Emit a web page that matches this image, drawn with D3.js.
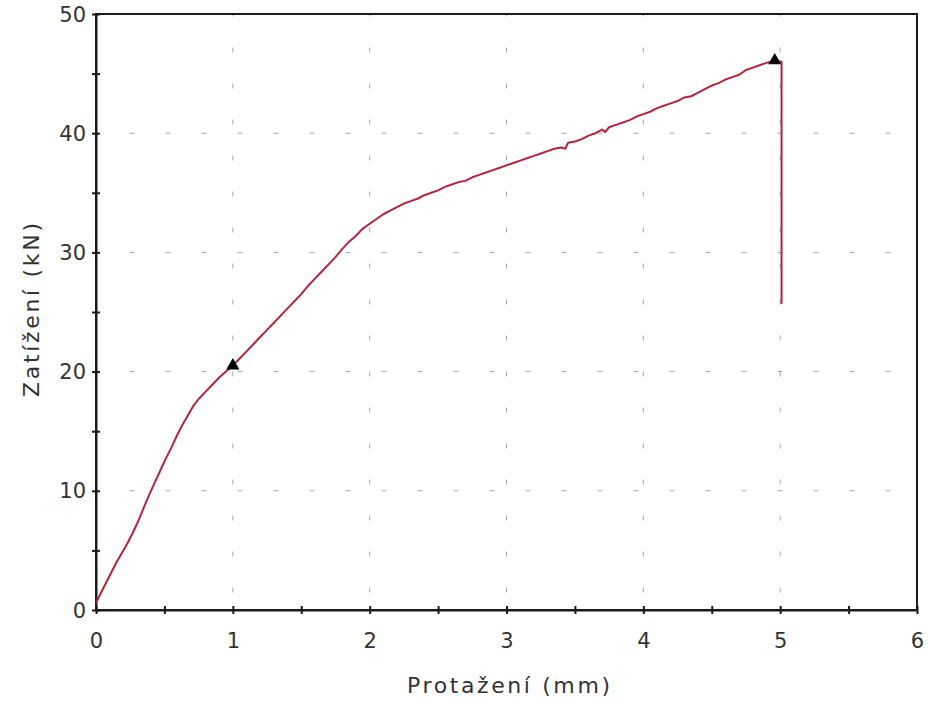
<!DOCTYPE html>
<meta charset="utf-8">
<style>
  body { margin: 0; background: #fff; }
  svg { display: block; font-family: "DejaVu Sans", Verdana, sans-serif; }
  .grid line { stroke: #a8a8a8; stroke-width: 1; stroke-dasharray: 5 31; }
  .axis path, .axis line { stroke: #1a1a1a; stroke-width: 2; }
  .axis text { fill: #333; font-size: 21px; font-family: "DejaVu Sans", Verdana, sans-serif; }
  .frame { fill: none; stroke: #1a1a1a; stroke-width: 2; }
  .title { fill: #333; font-size: 22px; }
  .curve { fill: none; stroke: #b4243a; stroke-width: 2; stroke-linejoin: round; }
</style>
<body>
<script src="https://d3js.org/d3.v7.min.js"></script>
<script>

// Protažení (mm) vs. Zatížení (kN)
const protazeni = [0.00, 0.03, 0.07, 0.11, 0.15, 0.19, 0.23, 0.27, 0.31, 0.35, 0.39, 0.43, 0.47, 0.51, 0.55, 0.59, 0.63, 0.67, 0.71, 0.75, 0.80, 0.85, 0.90, 0.95, 1.00,
  1.05, 1.10, 1.15, 1.20, 1.25, 1.30, 1.35, 1.40, 1.45, 1.50, 1.55, 1.60, 1.65, 1.70, 1.75, 1.80, 1.85, 1.90, 1.95, 2.00,
  2.05, 2.10, 2.15, 2.20, 2.25, 2.30, 2.35, 2.40, 2.45, 2.50, 2.55, 2.60, 2.65, 2.70, 2.75, 2.80, 2.85, 2.90, 2.95, 3.00, 3.05, 3.10,
  3.15, 3.20, 3.25, 3.30, 3.35, 3.40, 3.43, 3.45, 3.50, 3.55, 3.60, 3.65, 3.70, 3.72, 3.75, 3.80, 3.85, 3.90, 3.95, 4.00,
  4.05, 4.10, 4.15, 4.20, 4.25, 4.30, 4.35, 4.40, 4.45, 4.50, 4.55, 4.60, 4.65, 4.70, 4.75, 4.80, 4.85, 4.90, 4.96, 5.01, 5.01];
const zatizeni = [0.6, 1.3, 2.2, 3.1, 4.0, 4.8, 5.6, 6.5, 7.5, 8.6, 9.7, 10.7, 11.7, 12.7, 13.6, 14.6, 15.5, 16.3, 17.1, 17.7, 18.3, 18.9, 19.5, 20.0, 20.5,
  21.1, 21.7, 22.3, 22.9, 23.5, 24.1, 24.7, 25.3, 25.9, 26.5, 27.2, 27.8, 28.4, 29.0, 29.6, 30.3, 30.9, 31.4, 32.0, 32.4,
  32.8, 33.2, 33.5, 33.8, 34.1, 34.3, 34.5, 34.8, 35.0, 35.2, 35.5, 35.7, 35.9, 36.0, 36.3, 36.5, 36.7, 36.9, 37.1, 37.3, 37.5, 37.7,
  37.9, 38.1, 38.3, 38.5, 38.7, 38.8, 38.7, 39.2, 39.3, 39.5, 39.8, 40.0, 40.3, 40.1, 40.5, 40.7, 40.9, 41.1, 41.4, 41.6,
  41.8, 42.1, 42.3, 42.5, 42.7, 43.0, 43.1, 43.4, 43.7, 44.0, 44.2, 44.5, 44.7, 44.9, 45.3, 45.5, 45.7, 45.9, 46.1, 46.0, 25.7];

// triangle markers
const markerX = [1.00, 4.96];
const markerY = [20.5, 46.1];

const xTicks = [0, 1, 2, 3, 4, 5, 6];
const xMinor = [0.5, 1.5, 2.5, 3.5, 4.5, 5.5];
const yTicks = [0, 10, 20, 30, 40, 50];
const yMinor = [5, 15, 25, 35, 45];

const width = 928, height = 704;
const margin = {top: 14, right: 11, bottom: 94, left: 96};
const w = width - margin.left - margin.right;
const h = height - margin.top - margin.bottom;

const svg = d3.select('body').append('svg')
  .attr('width', width)
  .attr('height', height);

const g = svg.append('g')
  .attr('transform', `translate(${margin.left},${margin.top})`);

const x = d3.scaleLinear().domain([0, 6]).range([0, w]);
const y = d3.scaleLinear().domain([0, 50]).range([h, 0]);

// dashed grid
const grid = g.append('g').attr('class', 'grid');
grid.selectAll('line.v')
  .data(xTicks.filter(d => d > 0 && d < 6))
  .enter().append('line')
    .attr('class', 'v')
    .attr('x1', d => x(d)).attr('x2', d => x(d))
    .attr('y1', 0).attr('y2', h)
    .attr('stroke-dashoffset', 2.5);
grid.selectAll('line.h')
  .data(yTicks.filter(d => d > 0 && d < 50))
  .enter().append('line')
    .attr('class', 'h')
    .attr('x1', 0).attr('x2', w)
    .attr('y1', d => y(d)).attr('y2', d => y(d))
    .attr('stroke-dashoffset', 2.5);

// frame
g.append('rect').attr('class', 'frame')
  .attr('x', 0).attr('y', 0).attr('width', w).attr('height', h);

// x axis, ticks cross the line
const xAxis = g.append('g').attr('class', 'axis')
  .attr('transform', `translate(0,${h})`)
  .call(d3.axisBottom(x).tickValues(xTicks).tickFormat(d3.format('d')).tickSize(4).tickSizeOuter(0));
xAxis.selectAll('.tick line').attr('y1', -4).attr('y2', 4);
xAxis.selectAll('.tick text').attr('y', 31).attr('dy', null).attr('dominant-baseline', 'central');

const xAxisMinor = g.append('g').attr('class', 'axis')
  .attr('transform', `translate(0,${h})`)
  .call(d3.axisBottom(x).tickValues(xMinor).tickFormat('').tickSizeOuter(0));
xAxisMinor.select('.domain').remove();
xAxisMinor.selectAll('.tick line').attr('y1', -4).attr('y2', 4);

// y axis
const yAxis = g.append('g').attr('class', 'axis')
  .call(d3.axisLeft(y).tickValues(yTicks).tickFormat(d3.format('d')).tickSize(4).tickSizeOuter(0));
yAxis.selectAll('.tick line').attr('x1', -4).attr('x2', 4);
yAxis.selectAll('.tick text').attr('x', -10).attr('dy', null).attr('dominant-baseline', 'central');

const yAxisMinor = g.append('g').attr('class', 'axis')
  .call(d3.axisLeft(y).tickValues(yMinor).tickFormat('').tickSizeOuter(0));
yAxisMinor.select('.domain').remove();
yAxisMinor.selectAll('.tick line').attr('x1', -4).attr('x2', 4);

// curve
const pts = protazeni.map((d, i) => [d, zatizeni[i]]);
const line = d3.line().x(d => x(d[0])).y(d => y(d[1]));
g.append('path').datum(pts).attr('class', 'curve').attr('d', line);

// markers
g.selectAll('path.marker')
  .data(markerX.map((d, i) => [d, markerY[i]]))
  .enter().append('path')
    .attr('class', 'marker')
    .attr('d', d3.symbol().type(d3.symbolTriangle).size(75))
    .attr('transform', d => `translate(${x(d[0])},${y(d[1])})`)
    .attr('fill', '#000');

// axis titles
svg.append('text').attr('class', 'title')
  .attr('x', margin.left + w / 2 + 2)
  .attr('y', 693)
  .attr('text-anchor', 'middle')
  .attr('textLength', 203)
  .attr('lengthAdjust', 'spacing')
  .text('Protažení (mm)');

svg.append('text').attr('class', 'title')
  .attr('transform', 'translate(39,310) rotate(-90)')
  .attr('text-anchor', 'middle')
  .attr('textLength', 174)
  .attr('lengthAdjust', 'spacing')
  .text('Zatížení (kN)');

</script>
</body>
